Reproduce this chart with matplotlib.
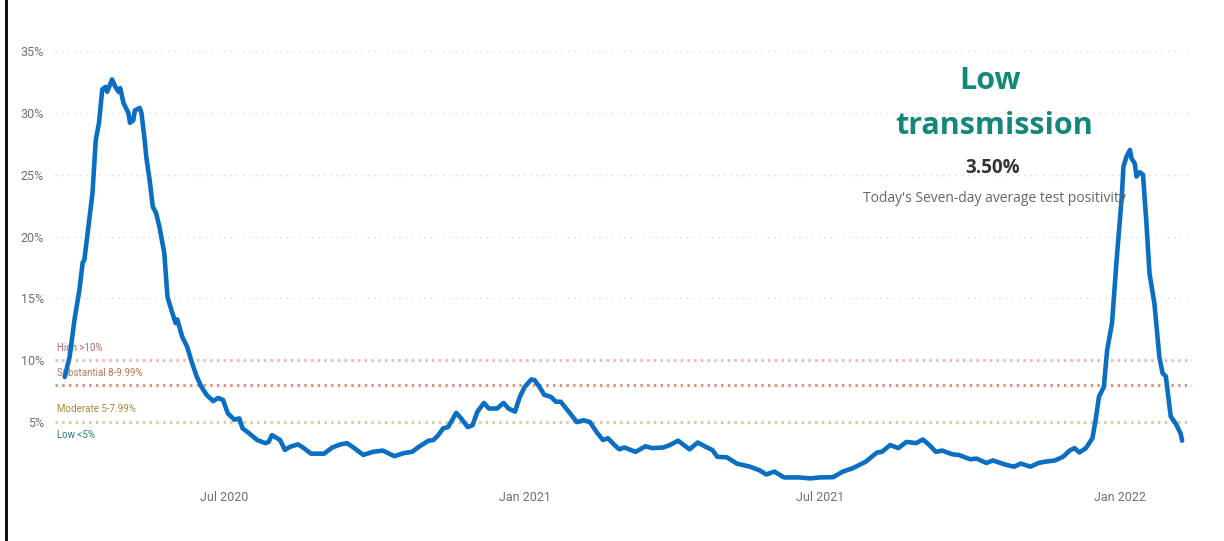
import pandas as pd
import matplotlib.pyplot as plt
import matplotlib.dates as mdates
import matplotlib.ticker as mticker
from matplotlib.lines import Line2D

# seven-day average test positivity (%)
dates = [
    "2020-03-25", "2020-03-28", "2020-03-31", "2020-04-03", "2020-04-05", "2020-04-06",
    "2020-04-09", "2020-04-11", "2020-04-13", "2020-04-15", "2020-04-17", "2020-04-19",
    "2020-04-20", "2020-04-23", "2020-04-25", "2020-04-27", "2020-04-28", "2020-04-30",
    "2020-05-03", "2020-05-04", "2020-05-06", "2020-05-07", "2020-05-10", "2020-05-11",
    "2020-05-13", "2020-05-14", "2020-05-16", "2020-05-18", "2020-05-20", "2020-05-22",
    "2020-05-25", "2020-05-27", "2020-05-30", "2020-06-01", "2020-06-02", "2020-06-05",
    "2020-06-08", "2020-06-11", "2020-06-14", "2020-06-17", "2020-06-20", "2020-06-24",
    "2020-06-27", "2020-06-30", "2020-07-03", "2020-07-07", "2020-07-10", "2020-07-12",
    "2020-07-16", "2020-07-21", "2020-07-26", "2020-07-28", "2020-07-30", "2020-08-04",
    "2020-08-07", "2020-08-10", "2020-08-15", "2020-08-18", "2020-08-23", "2020-08-31",
    "2020-09-05", "2020-09-10", "2020-09-14", "2020-09-18", "2020-09-24", "2020-09-30",
    "2020-10-06", "2020-10-13", "2020-10-19", "2020-10-24", "2020-10-28", "2020-11-03",
    "2020-11-06", "2020-11-09", "2020-11-12", "2020-11-15", "2020-11-18", "2020-11-20",
    "2020-11-23", "2020-11-27", "2020-11-30", "2020-12-03", "2020-12-07", "2020-12-10",
    "2020-12-15", "2020-12-19", "2020-12-22", "2020-12-26", "2020-12-29", "2021-01-01",
    "2021-01-05", "2021-01-07", "2021-01-10", "2021-01-13", "2021-01-17", "2021-01-20",
    "2021-01-23", "2021-01-27", "2021-02-02", "2021-02-06", "2021-02-10", "2021-02-14",
    "2021-02-18", "2021-02-21", "2021-02-25", "2021-02-28", "2021-03-03", "2021-03-10",
    "2021-03-16", "2021-03-20", "2021-03-27", "2021-03-31", "2021-04-05", "2021-04-12",
    "2021-04-17", "2021-04-22", "2021-04-26", "2021-04-29", "2021-05-05", "2021-05-11",
    "2021-05-19", "2021-05-25", "2021-05-29", "2021-06-03", "2021-06-09", "2021-06-18",
    "2021-06-25", "2021-07-01", "2021-07-09", "2021-07-15", "2021-07-21", "2021-07-29",
    "2021-08-05", "2021-08-08", "2021-08-13", "2021-08-18", "2021-08-23", "2021-08-29",
    "2021-09-02", "2021-09-06", "2021-09-10", "2021-09-14", "2021-09-20", "2021-09-24",
    "2021-10-01", "2021-10-05", "2021-10-11", "2021-10-15", "2021-10-23", "2021-10-28",
    "2021-11-01", "2021-11-07", "2021-11-12", "2021-11-16", "2021-11-22", "2021-11-27",
    "2021-12-01", "2021-12-04", "2021-12-07", "2021-12-11", "2021-12-15", "2021-12-17",
    "2021-12-19", "2021-12-22", "2021-12-24", "2021-12-27", "2021-12-30", "2022-01-02",
    "2022-01-03", "2022-01-05", "2022-01-07", "2022-01-08", "2022-01-10", "2022-01-11",
    "2022-01-13", "2022-01-15", "2022-01-17", "2022-01-19", "2022-01-22", "2022-01-25",
    "2022-01-27", "2022-01-29", "2022-02-01", "2022-02-04", "2022-02-07", "2022-02-08",
]
positivity = [
    8.65, 10.3, 13.3, 15.7, 17.9, 18.1,
    21.3, 23.5, 27.8, 29.2, 31.9, 32.1,
    31.7, 32.7, 32.1, 31.7, 32.0, 30.8,
    30.0, 29.2, 29.4, 30.2, 30.4, 30.0,
    27.8, 26.4, 24.6, 22.4, 21.9, 20.8,
    18.7, 15.1, 13.8, 13.0, 13.3, 11.9,
    11.1, 9.8, 8.65, 7.8, 7.2, 6.7,
    6.95, 6.8, 5.7, 5.2, 5.3, 4.5,
    4.1, 3.55, 3.3, 3.4, 3.95, 3.55,
    2.75, 3.0, 3.2, 2.95, 2.45, 2.45,
    2.95, 3.2, 3.3, 2.95, 2.35, 2.6,
    2.7, 2.25, 2.5, 2.6, 3.0, 3.5,
    3.55, 3.95, 4.5, 4.6, 5.3, 5.75,
    5.3, 4.6, 4.75, 5.85, 6.55, 6.1,
    6.1, 6.55, 6.1, 5.85, 7.05, 7.85,
    8.45, 8.4, 7.85, 7.2, 7.05, 6.65,
    6.65, 6.0, 5.0, 5.15, 5.0, 4.2,
    3.55, 3.7, 3.15, 2.8, 2.95, 2.6,
    3.05, 2.9, 2.95, 3.15, 3.5, 2.8,
    3.35, 3.0, 2.75, 2.2, 2.15, 1.65,
    1.4, 1.1, 0.77, 1.0, 0.53, 0.53,
    0.45, 0.53, 0.55, 1.0, 1.27, 1.8,
    2.55, 2.6, 3.15, 2.9, 3.4, 3.3,
    3.6, 3.15, 2.6, 2.7, 2.4, 2.35,
    2.0, 2.05, 1.7, 1.9, 1.55, 1.4,
    1.65, 1.4, 1.7, 1.8, 1.9, 2.2,
    2.7, 2.9, 2.55, 2.9, 3.7, 5.2,
    7.05, 7.85, 10.8, 13.0, 18.4, 23.2,
    25.65, 26.5, 27.0, 26.3, 25.9, 24.85,
    25.2, 25.0, 21.3, 17.0, 14.6, 10.3,
    8.95, 8.7, 5.45, 4.9, 4.1, 3.5,
]

# transmission levels
levels = [10, 8, 5]
level_line_colors = ["#F0B8B4", "#DA967C", "#D4CDA2"]
level_names = ["High >10%", "Substantial 8-9.99%", "Moderate 5-7.99%", "Low <5%"]
level_text_colors = ["#C0605A", "#C07550", "#A88A32", "#2F7575"]

y_ticks = [5, 10, 15, 20, 25, 30, 35]
x_ticks = ["2020-07-01", "2021-01-01", "2021-07-01", "2022-01-01"]

status = "Low\ntransmission"
latest = "3.50%"
caption = "Today's Seven-day average test positivity"

dates = pd.to_datetime(dates)

fig = plt.figure(figsize=(12.24, 5.41), dpi=100)
ax = fig.add_axes([0.0449, 0.1054, 0.9289, 0.8186])

# light gray dotted gridlines
for v in y_ticks:
    if v in levels:
        continue
    ax.axhline(v, color="#D8D8D8", lw=1.0, ls=(0, (1, 3.5)), zorder=1)

# coloured threshold lines
for v, c in zip(levels, level_line_colors):
    ax.axhline(v, color=c, lw=2.2, ls=(0, (0.8, 1.4)), zorder=1)

ax.plot(dates, positivity, color="#0A6FC2", lw=3.3, solid_joinstyle="round",
        solid_capstyle="round", zorder=3)

ax.set_xlim(pd.Timestamp("2020-03-19"), pd.Timestamp("2022-02-14"))
ax.set_ylim(0, 35.8)

ax.set_xticks(pd.to_datetime(x_ticks))
ax.xaxis.set_major_formatter(mdates.DateFormatter("%b %Y"))
ax.set_yticks(y_ticks)
ax.yaxis.set_major_formatter(mticker.FuncFormatter(lambda v, p: f"{v:.0f}%"))
ax.tick_params(length=0, labelsize=9, labelcolor="#707070")
ax.tick_params(axis="x", pad=5)
ax.tick_params(axis="y", pad=8)
for lab in ax.get_xticklabels() + ax.get_yticklabels():
    lab.set_family(["Roboto", "DejaVu Sans"])
for s in ax.spines.values():
    s.set_visible(False)

# level labels
trans = ax.get_yaxis_transform()
label_y = [11.0, 9.0, 6.05, 3.95]
for name, col, yv in zip(level_names, level_text_colors, label_y):
    ax.text(0.002, yv, name, transform=trans, fontsize=7, color=col,
            va="center", ha="left", family=["Roboto", "DejaVu Sans"], zorder=2)

# headline block
head_font = ["Open Sans", "DejaVu Sans"]
lines = status.split("\n")
fig.text(0.8085, 0.851, lines[0], ha="center", va="center", fontsize=22,
         fontweight="bold", color="#12877A", family=head_font)
fig.text(0.8125, 0.768, lines[1], ha="center", va="center", fontsize=22,
         fontweight="bold", color="#12877A", family=head_font)
fig.text(0.811, 0.690, latest, ha="center", va="center", fontsize=13.5,
         fontweight="bold", color="#333333", family=head_font)
fig.text(0.8125, 0.634, caption, ha="center", va="center", fontsize=10,
         color="#666666", family=head_font, zorder=1)

# left border
fig.add_artist(Line2D([0.0052, 0.0052], [0, 1], transform=fig.transFigure,
                      color="black", lw=2))

fig.savefig("out.png", dpi=100)
